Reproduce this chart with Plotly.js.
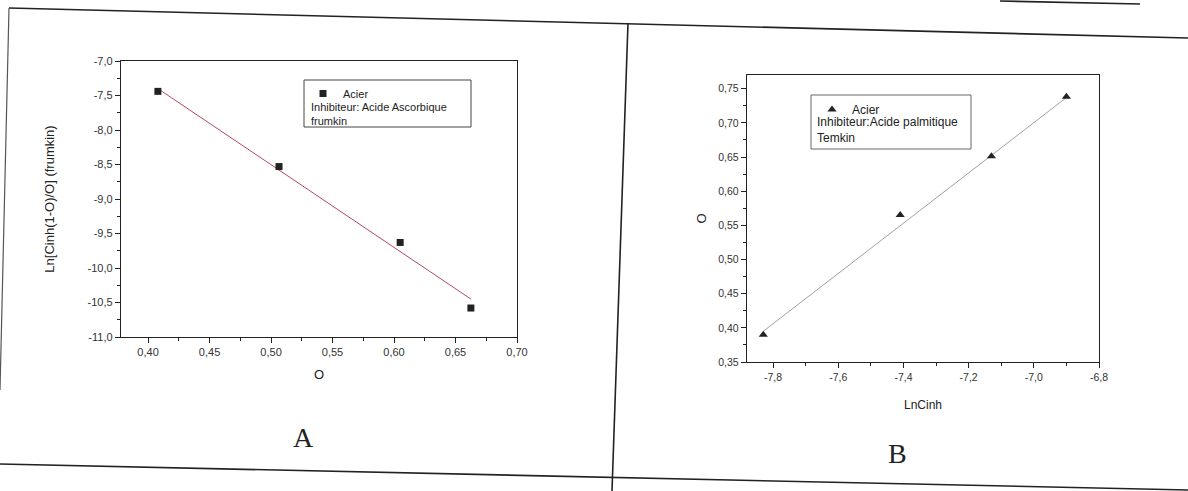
<!DOCTYPE html>
<html>
<head>
<meta charset="utf-8">
<script src="https://cdn.plot.ly/plotly-3.0.1.min.js"></script>
<style>html,body{margin:0;padding:0;background:#fff;}#chart{width:1188px;height:491px;}</style>
</head>
<body>
<div id="chart"></div>
<script>
// ---- Panel A : Frumkin (Acide Ascorbique) ----
const thetaA = [0.408, 0.5065, 0.605, 0.6625];
const lnA = [-7.44, -8.53, -9.63, -10.58];
const fitThetaA = [0.408, 0.6625];
const fitLnA = [-7.40, -10.45];
const xTickValsA = [0.40, 0.45, 0.50, 0.55, 0.60, 0.65, 0.70];
const xTickTextA = ['0,40', '0,45', '0,50', '0,55', '0,60', '0,65', '0,70'];
const yTickValsA = [-7.0, -7.5, -8.0, -8.5, -9.0, -9.5, -10.0, -10.5, -11.0];
const yTickTextA = ['-7,0', '-7,5', '-8,0', '-8,5', '-9,0', '-9,5', '-10,0', '-10,5', '-11,0'];

// ---- Panel B : Temkin (Acide palmitique) ----
const lnCinhB = [-7.83, -7.41, -7.13, -6.90];
const thetaB = [0.39, 0.565, 0.651, 0.738];
const fitLnCinhB = [-7.83, -6.90];
const fitThetaB = [0.395, 0.737];
const xTickValsB = [-7.8, -7.6, -7.4, -7.2, -7.0, -6.8];
const xTickTextB = ['-7,8', '-7,6', '-7,4', '-7,2', '-7,0', '-6,8'];
const yTickValsB = [0.35, 0.40, 0.45, 0.50, 0.55, 0.60, 0.65, 0.70, 0.75];
const yTickTextB = ['0,35', '0,40', '0,45', '0,50', '0,55', '0,60', '0,65', '0,70', '0,75'];

const W = 1188, H = 491;
const X = p => p / W;
const Y = p => 1 - p / H;
const FONT = 'Liberation Sans, Arial, sans-serif';
const INK = '#222';

function axisStyle(fontSize, extra) {
  return Object.assign({
    showline: true, mirror: true, linecolor: INK, linewidth: 1.2,
    ticks: 'outside', ticklen: 5, tickwidth: 1, tickcolor: INK,
    tickmode: 'array', showgrid: false, zeroline: false,
    tickfont: {family: FONT, size: fontSize, color: '#333'}
  }, extra);
}

const traces = [
  {x: fitThetaA, y: fitLnA, xaxis: 'x', yaxis: 'y', mode: 'lines',
   line: {color: '#b5485a', width: 1}, showlegend: false, hoverinfo: 'skip'},
  {x: thetaA, y: lnA, xaxis: 'x', yaxis: 'y', mode: 'markers', name: 'Acier',
   marker: {symbol: 'square', size: 7, color: INK}, legend: 'legend'},
  {x: fitLnCinhB, y: fitThetaB, xaxis: 'x2', yaxis: 'y2', mode: 'lines',
   line: {color: '#a0a0a0', width: 1}, showlegend: false, hoverinfo: 'skip'},
  {x: lnCinhB, y: thetaB, xaxis: 'x2', yaxis: 'y2', mode: 'markers', name: 'Acier',
   marker: {symbol: 'triangle-up', size: 8, color: INK}, legend: 'legend2'}
];

const layout = {
  width: W, height: H,
  margin: {l: 0, r: 0, t: 0, b: 0},
  paper_bgcolor: '#ffffff', plot_bgcolor: '#ffffff',
  font: {family: FONT, color: INK},
  xaxis: axisStyle(11, {domain: [X(121), X(517)], range: [0.378, 0.70], anchor: 'y',
    tickvals: xTickValsA, ticktext: xTickTextA,
    minor: {ticks: 'outside', ticklen: 3, tickcolor: INK, tick0: 0.4, dtick: 0.025, showgrid: false},
    title: {text: 'O', font: {family: FONT, size: 13, color: INK}, standoff: 12}}),
  yaxis: axisStyle(11, {domain: [Y(337), Y(61)], range: [-11, -7], anchor: 'x',
    tickvals: yTickValsA, ticktext: yTickTextA,
    minor: {ticks: 'outside', ticklen: 3, tickcolor: INK, tick0: -7, dtick: 0.25, showgrid: false},
    title: {text: 'Ln[Cinh(1-O)/O] (frumkin)', font: {family: FONT, size: 13, color: INK}, standoff: 30}}),
  xaxis2: axisStyle(10.5, {domain: [X(747), X(1099)], range: [-7.88, -6.8], anchor: 'y2',
    tickvals: xTickValsB, ticktext: xTickTextB,
    minor: {ticks: 'outside', ticklen: 3, tickcolor: INK, tick0: -7.8, dtick: 0.1, showgrid: false},
    title: {text: 'LnCinh', font: {family: FONT, size: 12, color: INK}, standoff: 18}}),
  yaxis2: axisStyle(10.5, {domain: [Y(362), Y(75)], range: [0.35, 0.77], anchor: 'x2',
    tickvals: yTickValsB, ticktext: yTickTextB,
    minor: {ticks: 'outside', ticklen: 3, tickcolor: INK, tick0: 0.35, dtick: 0.025, showgrid: false},
    title: {text: 'O', font: {family: FONT, size: 13, color: INK}, standoff: 8}}),
  legend: {x: X(303), y: Y(79), xanchor: 'left', yanchor: 'top', bgcolor: 'rgba(0,0,0,0)',
    borderwidth: 0, itemwidth: 30, font: {family: FONT, size: 11, color: INK}},
  legend2: {x: X(812), y: Y(95), xanchor: 'left', yanchor: 'top', bgcolor: 'rgba(0,0,0,0)',
    borderwidth: 0, itemwidth: 30, font: {family: FONT, size: 12, color: INK}},
  shapes: [
    // scanned page frame lines
    {type: 'line', xref: 'paper', yref: 'paper', x0: X(9), y0: Y(8), x1: X(1188), y1: Y(38), line: {color: INK, width: 1.6}},
    {type: 'line', xref: 'paper', yref: 'paper', x0: X(9), y0: Y(8), x1: X(0), y1: Y(390), line: {color: '#555', width: 1.2}},
    {type: 'line', xref: 'paper', yref: 'paper', x0: X(628), y0: Y(23), x1: X(612), y1: Y(491), line: {color: INK, width: 1.6}},
    {type: 'line', xref: 'paper', yref: 'paper', x0: X(0), y0: Y(464), x1: X(1188), y1: Y(490), line: {color: INK, width: 1.6}},
    {type: 'line', xref: 'paper', yref: 'paper', x0: X(1000), y0: Y(1), x1: X(1140), y1: Y(4), line: {color: INK, width: 1.6}},
    // legend boxes
    {type: 'rect', xref: 'paper', yref: 'paper', x0: X(304), y0: Y(80), x1: X(471), y1: Y(127), line: {color: '#444', width: 1}},
    {type: 'rect', xref: 'paper', yref: 'paper', x0: X(811), y0: Y(95), x1: X(971), y1: Y(149), line: {color: '#666', width: 1}}
  ],
  annotations: [
    {xref: 'paper', yref: 'paper', x: X(309), y: Y(99), xanchor: 'left', yanchor: 'top', align: 'left',
     showarrow: false, text: 'Inhibiteur: Acide Ascorbique<br>frumkin',
     font: {family: FONT, size: 11, color: INK}},
    {xref: 'paper', yref: 'paper', x: X(815), y: Y(113), xanchor: 'left', yanchor: 'top', align: 'left',
     showarrow: false, text: 'Inhibiteur:Acide palmitique<br>Temkin',
     font: {family: FONT, size: 12, color: INK}},
    {xref: 'paper', yref: 'paper', x: X(303), y: Y(437), xanchor: 'center', yanchor: 'middle',
     showarrow: false, text: 'A', font: {family: 'Liberation Serif, Times New Roman, serif', size: 28, color: INK}},
    {xref: 'paper', yref: 'paper', x: X(898), y: Y(453), xanchor: 'center', yanchor: 'middle',
     showarrow: false, text: 'B', font: {family: 'Liberation Serif, Times New Roman, serif', size: 28, color: INK}}
  ]
};

Plotly.newPlot('chart', traces, layout, {displayModeBar: false, staticPlot: true});
</script>
</body>
</html>
